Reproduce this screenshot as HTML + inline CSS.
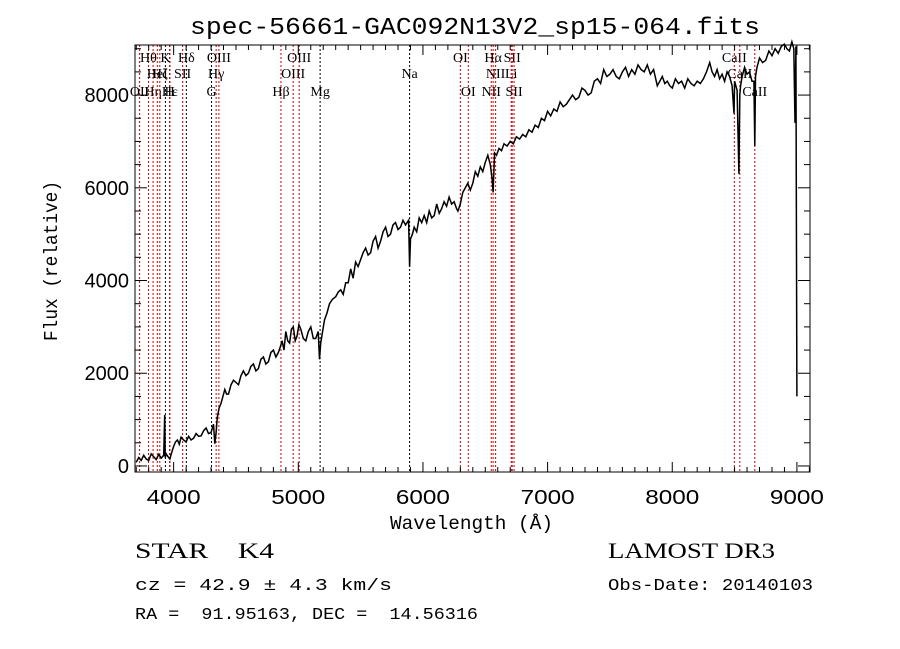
<!DOCTYPE html>
<html><head><meta charset="utf-8"><style>body{margin:0;background:#fff}svg{display:block}text{white-space:pre}</style></head>
<body>
<svg id="chart" width="900" height="649" xmlns="http://www.w3.org/2000/svg" font-family="Liberation Serif, serif" xml:space="preserve">
<rect width="900" height="649" fill="#fff"/>
<text x="190" y="34" font-family="Liberation Mono, monospace" font-size="24" textLength="570" lengthAdjust="spacingAndGlyphs">spec-56661-GAC092N13V2_sp15-064.fits</text>
<g id="lines"></g>
<g id="spec"></g>
<g id="axes"></g>
<text x="390" y="529" font-family="Liberation Mono, monospace" font-size="19" textLength="163" lengthAdjust="spacingAndGlyphs">Wavelength (Å)</text>
<text transform="translate(57,341) rotate(-90)" font-family="Liberation Mono, monospace" font-size="19" textLength="160" lengthAdjust="spacingAndGlyphs">Flux (relative)</text>
<text x="135" y="558" font-size="22" textLength="139" lengthAdjust="spacingAndGlyphs">STAR    K4</text>
<text x="135" y="590" font-family="Liberation Mono, monospace" font-size="17" textLength="257" lengthAdjust="spacingAndGlyphs">cz = 42.9 ± 4.3 km/s</text>
<text x="135" y="619" font-family="Liberation Mono, monospace" font-size="17" textLength="343" lengthAdjust="spacingAndGlyphs">RA =  91.95163, DEC =  14.56316</text>
<text x="608" y="558" font-size="22" textLength="167" lengthAdjust="spacingAndGlyphs">LAMOST DR3</text>
<text x="608" y="590" font-family="Liberation Mono, monospace" font-size="17" textLength="205" lengthAdjust="spacingAndGlyphs">Obs-Date: 20140103</text>
</svg>
<script>
const wavelengths=[
3700,3720,3740,3760,3780,3800,3820,3840,3860,3880,
3900,3920,3928,3932,3940,3955,3970,3985,4000,4015,
4030,4045,4060,4080,4100,4120,4140,4160,4180,4200,
4220,4240,4260,4280,4300,4320,4330,4340,4350,4365,
4380,4395,4410,4425,4440,4460,4480,4500,4520,4540,
4560,4580,4600,4620,4640,4660,4680,4700,4720,4740,
4760,4780,4800,4820,4840,4860,4870,4885,4900,4915,
4930,4945,4960,4975,4990,5005,5020,5040,5060,5080,
5100,5120,5140,5160,5170,5180,5195,5210,5230,5250,
5275,5300,5320,5340,5360,5380,5400,5420,5440,5460,
5480,5500,5520,5540,5560,5580,5600,5620,5640,5660,
5680,5700,5720,5740,5760,5780,5800,5820,5840,5860,
5885,5893,5900,5915,5930,5950,5970,5990,6010,6030,
6050,6070,6090,6110,6130,6150,6170,6190,6210,6230,
6250,6270,6280,6300,6320,6340,6360,6380,6400,6420,
6440,6460,6480,6500,6520,6540,6555,6563,6575,6590,
6610,6630,6650,6675,6700,6725,6750,6775,6800,6825,
6850,6875,6900,6925,6950,6975,7000,7025,7050,7075,
7100,7125,7150,7175,7200,7225,7250,7275,7300,7325,
7350,7375,7400,7425,7450,7475,7500,7525,7550,7575,
7600,7625,7650,7675,7700,7725,7750,7775,7800,7825,
7850,7880,7900,7920,7940,7960,7980,8000,8025,8050,
8075,8100,8125,8150,8175,8200,8225,8250,8275,8300,
8320,8340,8360,8380,8400,8420,8440,8460,8480,8495,
8500,8520,8535,8542,8548,8560,8580,8600,8620,8640,
8655,8662,8668,8680,8700,8725,8750,8775,8800,8825,
8850,8875,8900,8920,8940,8960,8975,8985,8992,9000];
const fluxValues=[
80,180,120,230,150,120,260,200,140,250,
170,230,1100,180,260,200,150,300,420,520,
560,470,620,560,520,640,560,600,700,640,
650,760,820,700,720,900,480,700,1050,1250,
1350,1500,1650,1550,1550,1750,1850,1800,1750,1950,
2050,1950,2000,2150,2200,2050,2100,2300,2350,2200,
2250,2450,2500,2350,2450,2600,2700,2500,2900,2700,
2650,2950,3000,2700,2800,3050,2950,2750,2700,2900,
3000,2750,2750,2900,2300,2650,2900,3150,3300,3500,
3600,3650,3750,3800,3700,3950,3950,4250,4050,4400,
4300,4450,4600,4700,4550,4600,4850,4950,4700,4850,
5050,5150,4950,5000,5200,5250,5100,5150,5300,5200,
5300,4300,4900,5000,5150,5050,5350,5250,5400,5250,
5500,5350,5400,5650,5450,5550,5700,5600,5800,5650,
5700,5550,5500,5650,5900,6000,6100,5950,6100,6350,
6250,6450,6350,6550,6700,6500,6200,5900,6750,6700,
6850,6800,6950,6900,7000,6950,7100,7050,7150,7100,
7250,7200,7350,7300,7500,7450,7650,7550,7700,7650,
7850,7750,7800,7900,8000,7900,7950,8150,8100,8000,
8050,8300,8350,8250,8550,8400,8450,8550,8400,8350,
8500,8600,8400,8550,8450,8650,8550,8500,8650,8450,
8550,8200,8300,8400,8250,8300,8200,8150,8350,8250,
8300,8150,8350,8250,8200,8300,8250,8350,8500,8700,
8500,8400,8550,8350,8450,8300,8500,8400,8200,7600,
8300,8100,6300,8000,8200,8400,8600,8450,8500,8300,
8300,6900,8400,8600,8800,8700,8750,8950,8850,9000,
8900,9050,9100,9000,8950,9150,9000,7400,9050,1500];
const lineWaves=[3727,3798,3835,3869,3889,3934,3968,3970,4072,4102,4304,4341,4363,4861,4959,5007,5175,5893,6300,6364,6548,6563,6583,6708,6716,6731,8498,8542,8662];
const lineLabels=["OII","Hθ","Hη","HeI","Hζ","K","H","Hε","SII","Hδ","G","Hγ","OIII","Hβ","OIII","OIII","Mg","Na","OI","OI","NII","Hα","NII","Li","SII","SII","CaII","CaII","CaII"];
const lineRows=[2,0,2,1,1,0,2,2,1,0,2,1,0,2,1,0,2,1,0,2,2,0,1,1,0,2,0,1,2];
const lineRed=[1,1,1,1,1,0,0,1,1,0,0,1,1,1,1,1,0,0,1,1,1,1,1,1,1,1,1,1,1];
const xTicks=[4000,5000,6000,7000,8000,9000];
const yTicks=[0,2000,4000,6000,8000];

const X0=135,X1=810,Y0=45,Y1=472,WMIN=3690,WMAX=9105,FMIN=-130,FMAX=9080;
const sx=w=>X0+(w-WMIN)/(WMAX-WMIN)*(X1-X0);
const sy=f=>Y1-(f-FMIN)/(FMAX-FMIN)*(Y1-Y0);
const NS="http://www.w3.org/2000/svg";
function mk(tag,attrs,parent){const e=document.createElementNS(NS,tag);for(const k in attrs)e.setAttribute(k,attrs[k]);parent.appendChild(e);return e;}

const gl=document.getElementById('lines');
const rowY=[62,78,96];
lineWaves.forEach((w,i)=>{
  const l=mk('line',{x1:sx(w),x2:sx(w),y1:Y0,y2:Y1,stroke:lineRed[i]?'#c00':'#000','stroke-width':1,'stroke-dasharray':'2,2'},gl);
  
  
  const t=mk('text',{x:sx(w),y:rowY[lineRows[i]],'text-anchor':'middle','font-size':14},gl);
  t.textContent=lineLabels[i];
  
  
});

const gs=document.getElementById('spec');
const n=Math.min(wavelengths.length,fluxValues.length);
const pts=wavelengths.slice(0,n).map((w,i)=>sx(w).toFixed(1)+','+sy(fluxValues[i]).toFixed(1)).join(' ');
const pl=mk('polyline',{points:pts,fill:'none',stroke:'#000','stroke-width':1.5},gs);



const ga=document.getElementById('axes');
const fr=mk('rect',{x:X0,y:Y0,width:X1-X0,height:Y1-Y0,fill:'none',stroke:'#000','stroke-width':1},ga);


for(let w=3700;w<=9100;w+=100){
  const major=w%1000===0, len=major?10:5;
  mk('line',{x1:sx(w),x2:sx(w),y1:Y1,y2:Y1-len,stroke:'#000'},ga);
  mk('line',{x1:sx(w),x2:sx(w),y1:Y0,y2:Y0+len,stroke:'#000'},ga);
}
xTicks.forEach(w=>{
  const t=mk('text',{x:sx(w)-27,y:504,'font-family':'Liberation Sans, sans-serif','font-size':20,textLength:54,lengthAdjust:'spacingAndGlyphs'},ga);
  t.textContent=w;
  
  
});
for(let f=0;f<=9000;f+=500){
  const major=f%2000===0,len=major?12:6;
  mk('line',{x1:X0,x2:X0+len,y1:sy(f),y2:sy(f),stroke:'#000'},ga);
  mk('line',{x1:X1,x2:X1-len,y1:sy(f),y2:sy(f),stroke:'#000'},ga);
}
yTicks.forEach(f=>{
  const t=mk('text',{x:X0-6,y:sy(f)+7,'text-anchor':'end','font-family':'Liberation Sans, sans-serif','font-size':20},ga);
  t.textContent=f;
  
  
});
</script>
</body></html>
